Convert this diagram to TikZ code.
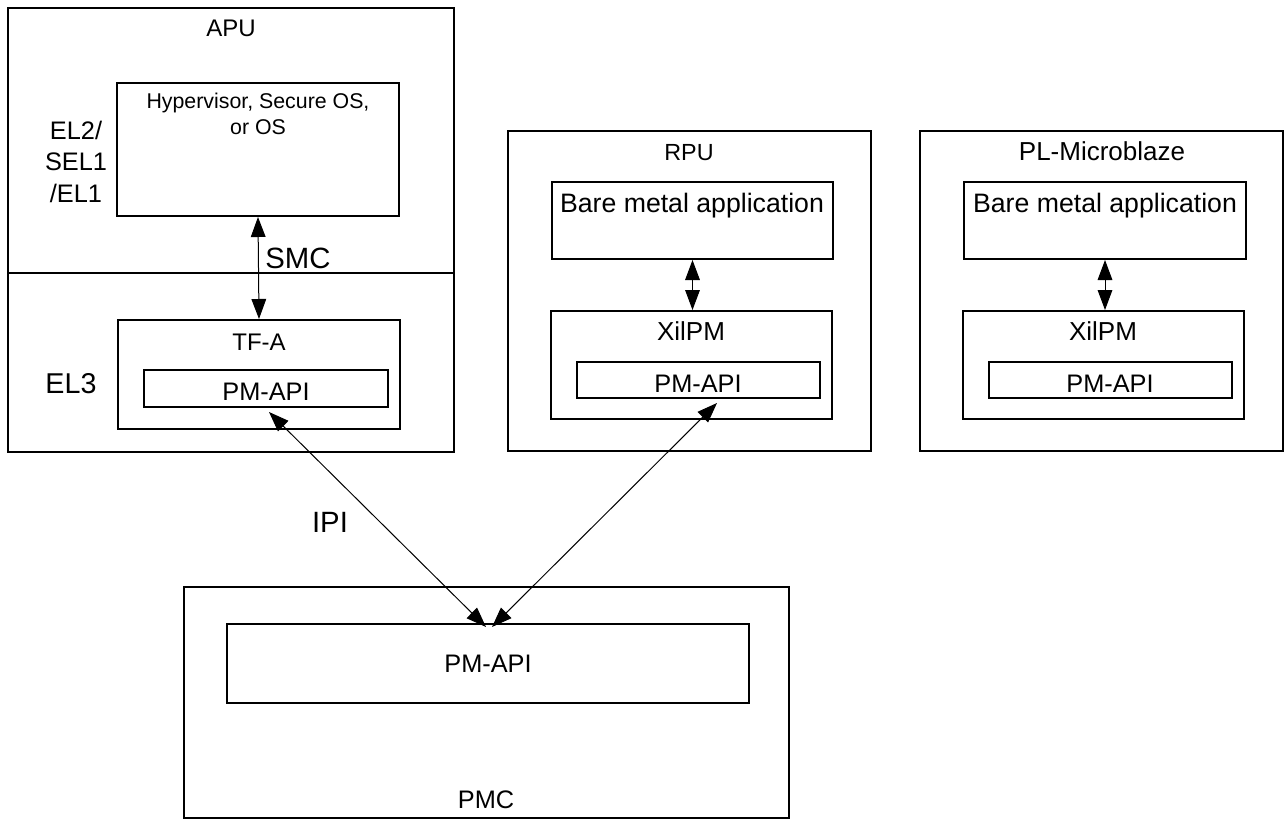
\documentclass[tikz,border=0pt]{standalone}
\usepackage{fontspec}
\setmainfont{Liberation Sans}
\usetikzlibrary{arrows.meta,fit,calc}
\tikzset{
  box/.style={draw, line width=1.5pt, inner sep=0pt},
  lbl/.style={anchor=base, inner sep=0pt, font=\fontsize{#1}{#1}\selectfont},
  dbl/.style={line width=0.75pt, {Triangle[length=15pt,width=11pt]}-{Triangle[length=15pt,width=11pt]}},
}
\begin{document}
\begin{tikzpicture}[x=0.75pt,y=-0.75pt]
\useasboundingbox (0,0) rectangle (1287,820);
% APU
\node[box, fit={(8,8)(454,452)}] (apu) {};
\draw[line width=2pt] (apu.west |- 0,273) -- (apu.east |- 0,273);
\node[box, fit={(117,83)(399,216)}] (hyp) {};
\node[box, fit={(118,320)(400,429)}] (tfa) {};
\node[box, fit={(144,370)(388,407)}] (tfapm) {};
\node[lbl=18pt] (tapu) at (231,37) {APU};
\node[lbl=16pt] (thyp1) at (258,109) {Hypervisor, Secure OS,};
\node[lbl=16pt] (thyp2) at (258,135) {or OS};
\node[lbl=19pt] (tel2) at (76,140) {EL2/};
\node[lbl=19pt] (tsel) at (76,171) {SEL1};
\node[lbl=19pt] (tel1) at (76,202) {/EL1};
\node[lbl=22pt] (tsmc) at (298,268) {SMC};
\node[lbl=18pt] (ttfa) at (259,350) {TF-A};
\node[lbl=21.5pt] (tel3) at (71,393) {EL3};
\node[lbl=19pt] (ttpm) at (266,400) {PM-API};
\draw[dbl] (hyp.south) -- (tfa.north);
% RPU
\node[box, fit={(508,131)(871,451)}] (rpu) {};
\node[box, fit={(552,182)(833,259)}] (rbare) {};
\node[box, fit={(551,311)(832,419)}] (rxil) {};
\node[box, fit={(577,362)(820,398)}] (rpm) {};
\node[lbl=17.5pt] (trpu) at (689,161) {RPU};
\node[lbl=20pt] (trbare) at (692,212) {Bare metal application};
\node[lbl=19.5pt] (trxil) at (691,340) {XilPM};
\node[lbl=19pt] (trpm) at (698,392) {PM-API};
\draw[dbl] (rbare.south) -- (rbare.south |- rxil.north);
% PL
\node[box, fit={(920,131)(1283,451)}] (pl) {};
\node[box, fit={(964,182)(1246,259)}] (pbare) {};
\node[box, fit={(963,311)(1244,419)}] (pxil) {};
\node[box, fit={(989,362)(1232,398)}] (ppm) {};
\node[lbl=19.5pt] (tpl) at (1102,161) {PL-Microblaze};
\node[lbl=20pt] (tpbare) at (1105,212) {Bare metal application};
\node[lbl=19.5pt] (tpxil) at (1103,340) {XilPM};
\node[lbl=19pt] (tppm) at (1110,392) {PM-API};
\draw[dbl] (pbare.south) -- (pbare.south |- pxil.north);
% PMC
\node[box, fit={(184,587)(789,818)}] (pmc) {};
\node[box, fit={(227,624)(749,703)}] (pmcapi) {};
\node[lbl=19pt] (tpmcapi) at (488,672) {PM-API};
\node[lbl=19pt] (tpmc) at (486,808) {PMC};
\node[lbl=22pt] (tipi) at (330,532) {IPI};
\coordinate (a1) at (269,412);
\coordinate (a2) at (486,627);
\coordinate (b1) at (717,403);
\coordinate (b2) at (492,627);
\draw[dbl] (a1) -- (a2);
\draw[dbl] (b1) -- (b2);
\end{tikzpicture}
\end{document}
